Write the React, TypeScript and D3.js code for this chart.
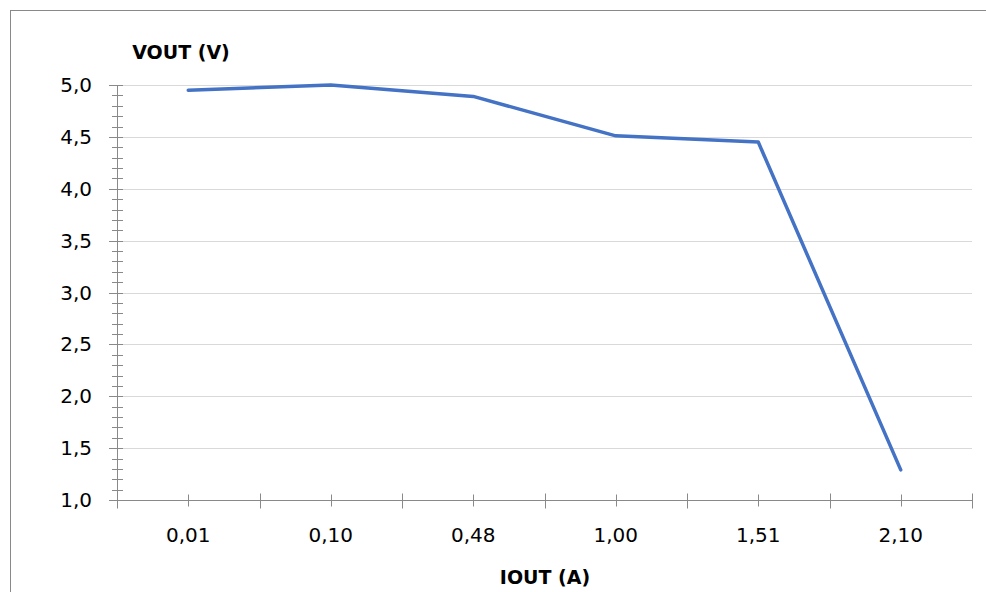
import React, { useEffect, useRef } from "react";
import * as d3 from "d3";

const categories = ["0,01", "0,10", "0,48", "1,00", "1,51", "2,10"];
const vout = [4.95, 5.0, 4.89, 4.51, 4.45, 1.29];
const yTicks = [1.0, 1.5, 2.0, 2.5, 3.0, 3.5, 4.0, 4.5, 5.0];

const App = () => {
  const ref = useRef<SVGSVGElement>(null);

  useEffect(() => {
    const svg = d3.select(ref.current);
    svg.selectAll("*").remove();
    const width = 986;
    const height = 592;
    const font = "'DejaVu Sans', Verdana, sans-serif";
    const axisColor = "#898989";

    const margin = { left: 117, right: 14, top: 85, bottom: 92 };

    const x = d3
      .scaleBand()
      .domain(categories)
      .range([margin.left, width - margin.right])
      .padding(0);
    const y = d3
      .scaleLinear()
      .domain([1, 5])
      .range([height - margin.bottom, margin.top]);

    svg.attr("width", width).attr("height", height);

    // chart border
    svg
      .append("rect")
      .attr("x", 10.5)
      .attr("y", 10.5)
      .attr("width", width + 20)
      .attr("height", height + 20)
      .attr("fill", "white")
      .attr("stroke", axisColor)
      .attr("stroke-width", 1);

    // gridlines
    svg
      .append("g")
      .selectAll("line")
      .data(yTicks.filter((d) => d > 1))
      .enter()
      .append("line")
      .attr("x1", margin.left)
      .attr("x2", width - margin.right)
      .attr("y1", (d) => Math.round(y(d)) + 0.5)
      .attr("y2", (d) => Math.round(y(d)) + 0.5)
      .attr("stroke", "#d9d9d9")
      .attr("stroke-width", 1);

    // y axis
    const yAxis = svg.append("g");
    yAxis
      .append("line")
      .attr("x1", margin.left + 0.5)
      .attr("x2", margin.left + 0.5)
      .attr("y1", y(5))
      .attr("y2", y(1))
      .attr("stroke", axisColor);
    yAxis
      .selectAll("line.minor")
      .data(y.ticks(40))
      .enter()
      .append("line")
      .attr("class", "minor")
      .attr("x1", margin.left - 5)
      .attr("x2", margin.left + 6)
      .attr("y1", (d) => Math.round(y(d)) + 0.5)
      .attr("y2", (d) => Math.round(y(d)) + 0.5)
      .attr("stroke", axisColor);
    yAxis
      .selectAll("line.major")
      .data(yTicks)
      .enter()
      .append("line")
      .attr("class", "major")
      .attr("x1", margin.left - 8)
      .attr("x2", margin.left)
      .attr("y1", (d) => Math.round(y(d)) + 0.5)
      .attr("y2", (d) => Math.round(y(d)) + 0.5)
      .attr("stroke", axisColor);
    yAxis
      .selectAll("text")
      .data(yTicks)
      .enter()
      .append("text")
      .attr("x", 92)
      .attr("y", (d) => y(d))
      .attr("dy", "0.35em")
      .attr("text-anchor", "end")
      .style("font-family", font)
      .style("font-size", "20px")
      .style("fill", "#000")
      .text((d) => d3.format(".1f")(d).replace(".", ","));

    // x axis
    const xAxis = svg.append("g");
    const y0 = Math.round(y(1)) + 0.5;
    xAxis
      .append("line")
      .attr("x1", margin.left)
      .attr("x2", width - margin.right)
      .attr("y1", y0)
      .attr("y2", y0)
      .attr("stroke", axisColor);
    const bounds = categories.map((c) => x(c) as number).concat([x.range()[1]]);
    xAxis
      .selectAll("line.bound")
      .data(bounds)
      .enter()
      .append("line")
      .attr("class", "bound")
      .attr("x1", (d) => Math.round(d) + 0.5)
      .attr("x2", (d) => Math.round(d) + 0.5)
      .attr("y1", y0 - 7)
      .attr("y2", y0 + 8)
      .attr("stroke", axisColor);
    xAxis
      .selectAll("line.mid")
      .data(categories)
      .enter()
      .append("line")
      .attr("class", "mid")
      .attr("x1", (d) => Math.round((x(d) as number) + x.bandwidth() / 2) + 0.5)
      .attr("x2", (d) => Math.round((x(d) as number) + x.bandwidth() / 2) + 0.5)
      .attr("y1", y0 - 6)
      .attr("y2", y0 + 6)
      .attr("stroke", axisColor);
    xAxis
      .selectAll("text")
      .data(categories)
      .enter()
      .append("text")
      .attr("x", (d) => (x(d) as number) + x.bandwidth() / 2)
      .attr("y", 535)
      .attr("dy", "0.35em")
      .attr("text-anchor", "middle")
      .style("font-family", font)
      .style("font-size", "20px")
      .style("fill", "#000")
      .text((d) => d);

    // line
    const line = d3
      .line<number>()
      .x((d, i) => (x(categories[i]) as number) + x.bandwidth() / 2)
      .y((d) => y(d));
    svg
      .append("path")
      .datum(vout)
      .attr("d", line)
      .attr("fill", "none")
      .attr("stroke", "#4472c4")
      .attr("stroke-width", 3.5)
      .attr("stroke-linejoin", "round")
      .attr("stroke-linecap", "round");

    // axis titles
    svg
      .append("text")
      .attr("x", 181)
      .attr("y", 52)
      .attr("dy", "0.35em")
      .attr("text-anchor", "middle")
      .style("font-family", font)
      .style("font-size", "19px")
      .style("font-weight", "bold")
      .text("VOUT (V)");
    svg
      .append("text")
      .attr("x", 545)
      .attr("y", 577)
      .attr("dy", "0.35em")
      .attr("text-anchor", "middle")
      .style("font-family", font)
      .style("font-size", "19px")
      .style("font-weight", "bold")
      .text("IOUT (A)");
  }, []);

  return (
    <svg
      ref={ref}
      style={{ position: "absolute", left: 0, top: 0, display: "block" }}
    ></svg>
  );
};

export default App;
